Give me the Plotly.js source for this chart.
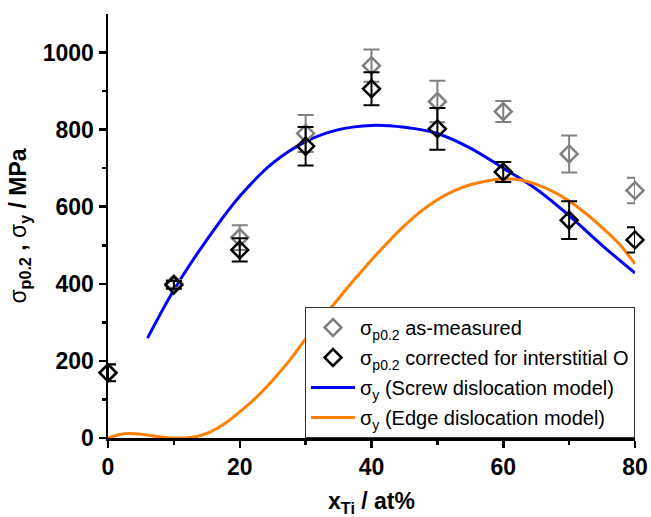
<!DOCTYPE html>
<html>
<head>
<meta charset="utf-8">
<script src="https://cdn.plot.ly/plotly-3.0.1.min.js"></script>
<style>body{margin:0;padding:0;background:#fff;} #chart{width:651px;height:517px;}</style>
</head>
<body>
<div id="chart"></div>
<script>
// Composition x_Ti (at%)
const xTi = [0, 10, 20, 30, 40, 50, 60, 70, 80];
// As-measured sigma_p0.2 (MPa) and error
const measured = [170, 400, 520, 790, 966, 873, 847, 737, 642];
const measuredErr = [22, 10, 32, 48, 42, 54, 27, 48, 33];
// Corrected for interstitial O (MPa) and error
const corrected = [169, 397, 488, 757, 906, 802, 690, 565, 514];
const correctedErr = [22, 10, 30, 50, 43, 54, 26, 49, 33];
// Screw dislocation model curve
const screwX = [6, 10, 15, 20, 25, 30, 35, 40, 45, 50, 55, 60, 65, 70, 75, 80];
const screwY = [259, 384, 514, 627, 713, 769, 800, 811, 806, 790, 752, 700, 646, 577, 500, 428];
// Edge dislocation model curve
const edgeX = [0, 2.5, 5, 7.5, 10, 12.5, 15, 17.5, 20, 22.5, 25, 27.5, 30, 32.5, 35, 37.5, 40, 42.5, 45, 47.5, 50, 52.5, 55, 57.5, 60, 62.5, 65, 67.5, 70, 72.5, 75, 77.5, 80];
const edgeY = [0, 11, 10, 4, 0, 1, 12, 35, 68, 105, 150, 200, 257, 310, 362, 413, 462, 508, 551, 588, 618, 641, 657, 667, 672, 670, 658, 640, 615, 583, 546, 505, 452];

const FONT = 'Liberation Sans, Arial, Helvetica, sans-serif';

const traces = [
  {x: screwX, y: screwY, type: 'scatter', mode: 'lines', line: {color: '#0000ff', width: 3, shape: 'spline', smoothing: 1},
   name: 'σ<sub>y</sub> (Screw dislocation model)', legendrank: 3, legendgroup: 'c', cliponaxis: false},
  {x: edgeX, y: edgeY, type: 'scatter', mode: 'lines', line: {color: '#ff7f00', width: 3, shape: 'spline', smoothing: 1},
   name: 'σ<sub>y</sub> (Edge dislocation model)', legendrank: 4, legendgroup: 'd', cliponaxis: false},
  {x: xTi, y: measured, type: 'scatter', mode: 'markers',
   marker: {symbol: 'diamond-open', size: 13, color: '#808080', line: {width: 2.5, color: '#808080'}},
   error_y: {type: 'data', array: measuredErr, visible: true, color: '#808080', thickness: 2, width: 8},
   name: 'σ<sub>p0.2</sub> as-measured', legendrank: 1, legendgroup: 'a', cliponaxis: false},
  {x: xTi, y: corrected, type: 'scatter', mode: 'markers',
   marker: {symbol: 'diamond-open', size: 13, color: '#000000', line: {width: 2.5, color: '#000000'}},
   error_y: {type: 'data', array: correctedErr, visible: true, color: '#000000', thickness: 2, width: 8},
   name: 'σ<sub>p0.2</sub> corrected for interstitial O', legendrank: 2, legendgroup: 'b', cliponaxis: false}
];

const layout = {
  width: 651, height: 517,
  margin: {l: 108, r: 16, t: 14, b: 79},
  paper_bgcolor: '#fff', plot_bgcolor: '#fff',
  font: {family: FONT, color: '#000'},
  showlegend: true,
  legend: {x: 1, xanchor: 'right', y: 0, yanchor: 'bottom', bgcolor: '#fff', bordercolor: '#333', borderwidth: 1,
           font: {size: 20, family: FONT, color: '#000'}, tracegroupgap: 1, traceorder: 'grouped', itemwidth: 44},
  xaxis: {range: [0, 80], showgrid: false, zeroline: false, showline: true, linecolor: '#000', linewidth: 2.5,
          ticks: 'outside', tickmode: 'array', tickvals: [0, 20, 40, 60, 80], ticktext: ['0','20','40','60','80'],
          ticklen: 7, tickwidth: 2.5, tickcolor: '#000',
          minor: {tickvals: [10, 30, 50, 70], ticks: 'outside', ticklen: 4, tickwidth: 2.5, tickcolor: '#000', showgrid: false},
          tickfont: {size: 23, family: FONT, weight: 'bold'},
          title: {text: '<b>x<sub>Ti</sub> / at%</b>', font: {size: 23, family: FONT}, standoff: 14}},
  yaxis: {range: [0, 1100], showgrid: false, zeroline: false, showline: true, linecolor: '#000', linewidth: 2.5,
          ticks: 'outside', tickmode: 'array', tickvals: [0, 200, 400, 600, 800, 1000], ticktext: ['0','200','400','600','800','1000'],
          ticklen: 7, tickwidth: 2.5, tickcolor: '#000',
          minor: {tickvals: [100, 300, 500, 700, 900], ticks: 'outside', ticklen: 4, tickwidth: 2.5, tickcolor: '#000', showgrid: false},
          tickfont: {size: 23, family: FONT, weight: 'bold'},
          title: {text: 'σ<sub><b>p0.2</b></sub><b> , </b>σ<sub><b>y</b></sub><b> / MPa</b>', font: {size: 23, family: FONT}, standoff: 10}}
};

Plotly.newPlot('chart', traces, layout, {displayModeBar: false, staticPlot: true});
</script>
</body>
</html>
